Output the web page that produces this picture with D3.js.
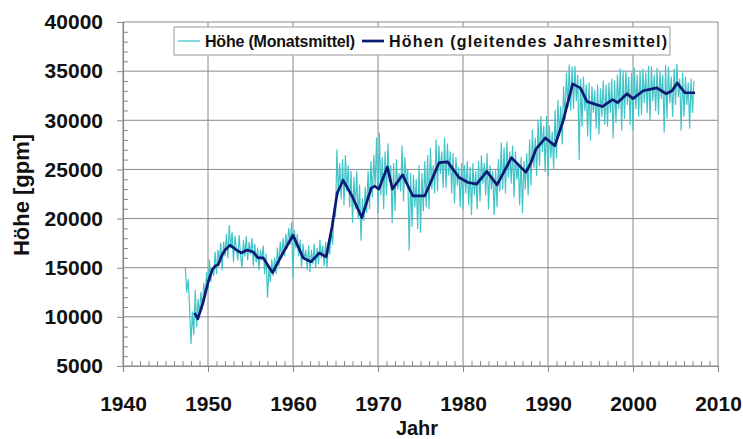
<!DOCTYPE html>
<html>
<head>
<meta charset="utf-8">
<script src="https://cdn.jsdelivr.net/npm/d3@7"></script>
<style>
  html, body { margin: 0; padding: 0; background: #fff; }
  svg { display: block; font-family: "Liberation Sans", Arial, Helvetica, sans-serif; font-weight: bold; }
</style>
</head>
<body>
<svg id="chart" width="743" height="439"></svg>
<script>
// Axis ticks
const yearTicks = [1940, 1950, 1960, 1970, 1980, 1990, 2000, 2010];
const heightTicks = [5000, 10000, 15000, 20000, 25000, 30000, 35000, 40000];

// Legend texts
const legendLabels = ["Höhe (Monatsmittel)", "Höhen (gleitendes Jahresmittel)"];

// Height [gpm], two-monthly samples, starting 1947.33
const hoeheStart = 1947 + 2 / 6;
const hoeheStep = 1 / 6;
const hoeheWerte = [
  15000, 12500, 13800, 11000,                  // 1947
  7300, 10500, 8200, 12700, 9000, 11800,       // 1948
  10200, 12500, 10800, 13400, 12000, 14500,    // 1949
  12800, 15800, 13600, 15000, 14200, 16600,    // 1950
  14400, 16800, 15600, 17500, 14800, 17600,    // 1951
  16200, 18400, 16000, 19300, 17000, 18600,    // 1952
  15600, 18200, 17000, 15800, 18300, 16200,    // 1953
  15000, 17800, 16200, 18200, 15800, 17600,    // 1954
  16400, 18000, 15200, 17400, 15600, 17000,    // 1955
  14800, 16800, 15800, 17200, 14400, 16400,    // 1956
  12000, 15000, 13600, 15800, 14200, 16000,    // 1957
  14400, 17000, 15200, 17600, 16000, 18000,    // 1958
  16200, 18400, 17000, 19000, 17400, 19600,    // 1959
  14000, 18800, 17000, 18400, 16200, 17800,    // 1960
  15000, 17400, 15800, 16800, 14800, 17200,    // 1961
  14600, 16800, 15400, 17400, 15000, 17000,    // 1962
  15400, 17800, 16000, 17200, 15200, 17600,    // 1963
  15000, 17400, 16400, 18800, 17400, 21000,    // 1964
  20200, 27000, 22400, 25600, 22000, 26000,    // 1965
  21400, 26400, 22800, 25400, 21200, 24800,    // 1966
  19600, 24200, 21000, 24800, 20000, 23400,    // 1967
  17800, 22000, 19800, 23200, 20600, 24800,    // 1968
  21000, 25800, 22200, 26400, 23400, 28200,    // 1969
  20600, 28700, 22400, 26200, 21000, 26800,    // 1970
  22400, 27600, 23800, 25400, 19600, 25600,    // 1971
  20800, 26000, 23000, 24600, 22800, 27400,    // 1972
  21800, 26200, 23600, 25000, 16800, 24600,    // 1973
  19200, 24400, 21200, 24000, 19000, 25400,    // 1974
  18600, 24600, 20800, 25800, 21200, 26400,    // 1975
  21000, 27200, 23000, 25400, 22600, 28000,    // 1976
  22800, 27400, 24600, 26800, 23200, 28200,    // 1977
  23200, 27600, 24400, 26800, 22600, 26600,    // 1978
  21600, 26200, 23400, 25200, 21200, 25600,    // 1979
  21000, 25400, 22600, 25800, 21400, 25200,    // 1980
  20400, 25600, 22400, 24800, 21000, 25800,    // 1981
  21800, 26400, 23600, 25600, 22400, 26600,    // 1982
  21000, 25400, 23000, 24800, 20400, 25000,    // 1983
  21200, 26000, 22800, 27700, 23000, 27200,    // 1984
  22600, 27800, 24200, 26800, 23600, 27400,    // 1985
  22200, 26800, 24000, 25600, 21400, 26200,    // 1986
  20600, 25800, 23000, 26600, 22400, 28000,    // 1987
  23400, 29000, 25200, 28200, 24400, 30000,    // 1988
  25400, 30400, 26800, 29400, 24800, 30400,    // 1989
  24400, 29400, 26200, 28800, 25000, 31000,    // 1990
  26200, 32000, 28400, 31400, 27600, 33400,    // 1991
  30000, 34800, 31400, 35650, 31000, 35400,    // 1992
  31200, 35500, 32000, 34600, 26000, 34200,    // 1993
  29400, 34400, 31000, 33600, 28400, 33800,    // 1994
  28000, 33400, 30800, 33000, 29200, 33600,    // 1995
  28600, 33200, 30400, 34000, 29600, 33600,    // 1996
  29400, 33800, 30800, 34200, 28200, 34000,    // 1997
  29800, 34600, 31200, 35200, 29000, 35000,    // 1998
  30200, 35000, 31600, 34400, 29600, 34800,    // 1999
  29000, 35300, 31200, 34600, 30400, 35000,    // 2000
  30600, 35200, 31800, 34800, 30800, 35500,    // 2001
  30000, 35400, 32000, 34600, 31000, 35300,    // 2002
  30600, 35000, 32200, 34600, 28800, 35600,    // 2003
  30200, 35400, 31800, 34400, 30400, 35200,    // 2004
  31600, 35700, 32400, 34200, 29000, 34800,    // 2005
  30400, 34400, 31600, 33800, 29200, 34200,    // 2006
  30800, 34000                                 // 2007
];

// Running annual mean (gleitendes Jahresmittel)
const mittelJahr = [
  1948.4, 1948.8, 1949.4, 1950.0, 1950.5, 1950.9, 1951.2, 1951.6, 1952.0, 1952.6,
  1953.2, 1953.9, 1954.6, 1955.3, 1955.9, 1956.5, 1957.0, 1957.6, 1958.7, 1960.0,
  1961.2, 1962.1, 1963.1, 1963.9, 1964.6, 1965.2, 1965.9, 1967.0, 1968.1, 1969.2,
  1969.6, 1970.1, 1971.1, 1971.7, 1972.9, 1974.1, 1975.5, 1976.5, 1977.2, 1978.2,
  1979.5, 1980.5, 1981.6, 1982.8, 1984.0, 1985.7, 1987.4, 1988.0, 1988.6, 1989.7,
  1990.8, 1991.8, 1992.9, 1993.8, 1994.6, 1996.4, 1996.9, 1997.6, 1998.2, 1999.3,
  2000.0, 2001.2, 2002.8, 2003.9, 2004.6, 2005.2, 2006.1, 2007.3
];
const mittelWert = [
  10400, 9800, 11400, 13500, 14800, 15200, 15300, 16200, 16800, 17300,
  16900, 16500, 16800, 16600, 16000, 16000, 15300, 14500, 16300, 18300,
  16000, 15600, 16500, 16100, 19200, 22600, 23900, 22200, 20100, 23100,
  23300, 23000, 25250, 23000, 24450, 22300, 22300, 24300, 25700, 25770,
  24200, 23700, 23500, 24800, 23430, 26200, 24700, 25700, 27100, 28200,
  27400, 30000, 33700, 33300, 31900, 31400, 31700, 32100, 31800, 32700,
  32200, 33000, 33300, 32700, 33000, 33800, 32800, 32800
];

const svg = d3.select("#chart");
const plotLeft = 123, plotRight = 718, plotTop = 22, plotBottom = 366;

const x = d3.scaleLinear().domain([1940, 2010]).range([plotLeft, plotRight]);
const y = d3.scaleLinear().domain([5000, 40000]).range([plotBottom, plotTop]);

const gridColor = "#8a8a8a";

// Horizontal grid lines
svg.append("g")
  .selectAll("line")
  .data(heightTicks)
  .join("line")
  .attr("x1", plotLeft).attr("x2", plotRight)
  .attr("y1", d => y(d)).attr("y2", d => y(d))
  .attr("stroke", gridColor).attr("stroke-width", 1);

// Vertical grid lines
svg.append("g")
  .selectAll("line")
  .data(yearTicks)
  .join("line")
  .attr("x1", d => x(d)).attr("x2", d => x(d))
  .attr("y1", plotTop).attr("y2", plotBottom)
  .attr("stroke", gridColor).attr("stroke-width", 1);

// Minor ticks (every 1000 gpm, every year) pointing into the plot
const minorY = d3.range(5000, 40001, 1000).filter(v => v % 5000 !== 0);
const minorX = d3.range(1940, 2011, 1).filter(v => v % 10 !== 0);

const yAxis = d3.axisLeft(y).tickValues(heightTicks).tickSize(6).tickPadding(14).tickFormat(d3.format("d"));
const yMinor = d3.axisRight(y).tickValues(minorY).tickSize(5).tickFormat("");
const xAxis = d3.axisBottom(x).tickValues(yearTicks).tickSize(6).tickPadding(24).tickFormat(d3.format("d"));
const xMinor = d3.axisTop(x).tickValues(minorX).tickSize(5).tickFormat("");

function styleAxis(g) {
  g.select(".domain").attr("stroke", gridColor).attr("stroke-width", 1.2);
  g.selectAll(".tick line").attr("stroke", gridColor);
  g.selectAll(".tick text").attr("fill", "#111").style("font-size", "21px").style("font-weight", "bold")
    .attr("font-family", "Liberation Sans, Arial, sans-serif");
}

svg.append("g").attr("transform", `translate(${plotLeft},0)`).call(yAxis).call(styleAxis);
svg.append("g").attr("transform", `translate(${plotLeft},0)`).call(yMinor).call(g => {
  g.select(".domain").remove();
  g.selectAll(".tick line").attr("stroke", gridColor);
});
svg.append("g").attr("transform", `translate(0,${plotBottom})`).call(xAxis).call(styleAxis);
svg.append("g").attr("transform", `translate(0,${plotBottom})`).call(xMinor).call(g => {
  g.select(".domain").remove();
  g.selectAll(".tick line").attr("stroke", gridColor);
});

// Series data
const hoehe = hoeheWerte.map((v, i) => ({ t: hoeheStart + i * hoeheStep, v }));
const mittel = mittelJahr.map((t, i) => ({ t, v: mittelWert[i] }));

const line = d3.line().x(d => x(d.t)).y(d => y(d.v));

svg.append("path")
  .datum(hoehe)
  .attr("d", line)
  .attr("fill", "none")
  .attr("stroke", "#40c4c8")
  .attr("stroke-width", 1.2)
  .attr("stroke-linejoin", "round");

svg.append("path")
  .datum(mittel)
  .attr("d", line)
  .attr("fill", "none")
  .attr("stroke", "#0d1a75")
  .attr("stroke-width", 2.7)
  .attr("stroke-linejoin", "round");

// Axis titles
svg.append("text")
  .attr("x", 417).attr("y", 435)
  .attr("text-anchor", "middle")
  .style("font-size", "20px")
  .attr("fill", "#111")
  .text("Jahr");

svg.append("text")
  .attr("transform", `translate(29,195) rotate(-90)`)
  .attr("text-anchor", "middle")
  .style("font-size", "22px")
  .attr("fill", "#111")
  .text("Höhe [gpm]");

// Legend
const legend = svg.append("g");
legend.append("rect")
  .attr("x", 174).attr("y", 27).attr("width", 496).attr("height", 28)
  .attr("fill", "#fff").attr("stroke", "#999").attr("stroke-width", 1);

const legendColors = ["#40c4c8", "#0d1a75"];
const legendWidths = [1.3, 2.7];
const legendLineX = [178, 362];
const legendTextWidth = [150, 278];
legendLabels.forEach((label, i) => {
  legend.append("line")
    .attr("x1", legendLineX[i]).attr("x2", legendLineX[i] + 22)
    .attr("y1", 41).attr("y2", 41)
    .attr("stroke", legendColors[i]).attr("stroke-width", legendWidths[i]);
  legend.append("text")
    .attr("x", legendLineX[i] + 27).attr("y", 47)
    .attr("textLength", legendTextWidth[i])
    .attr("lengthAdjust", "spacing")
    .style("font-size", "16px")
    .attr("fill", "#111")
    .text(label);
});
</script>
</body>
</html>
